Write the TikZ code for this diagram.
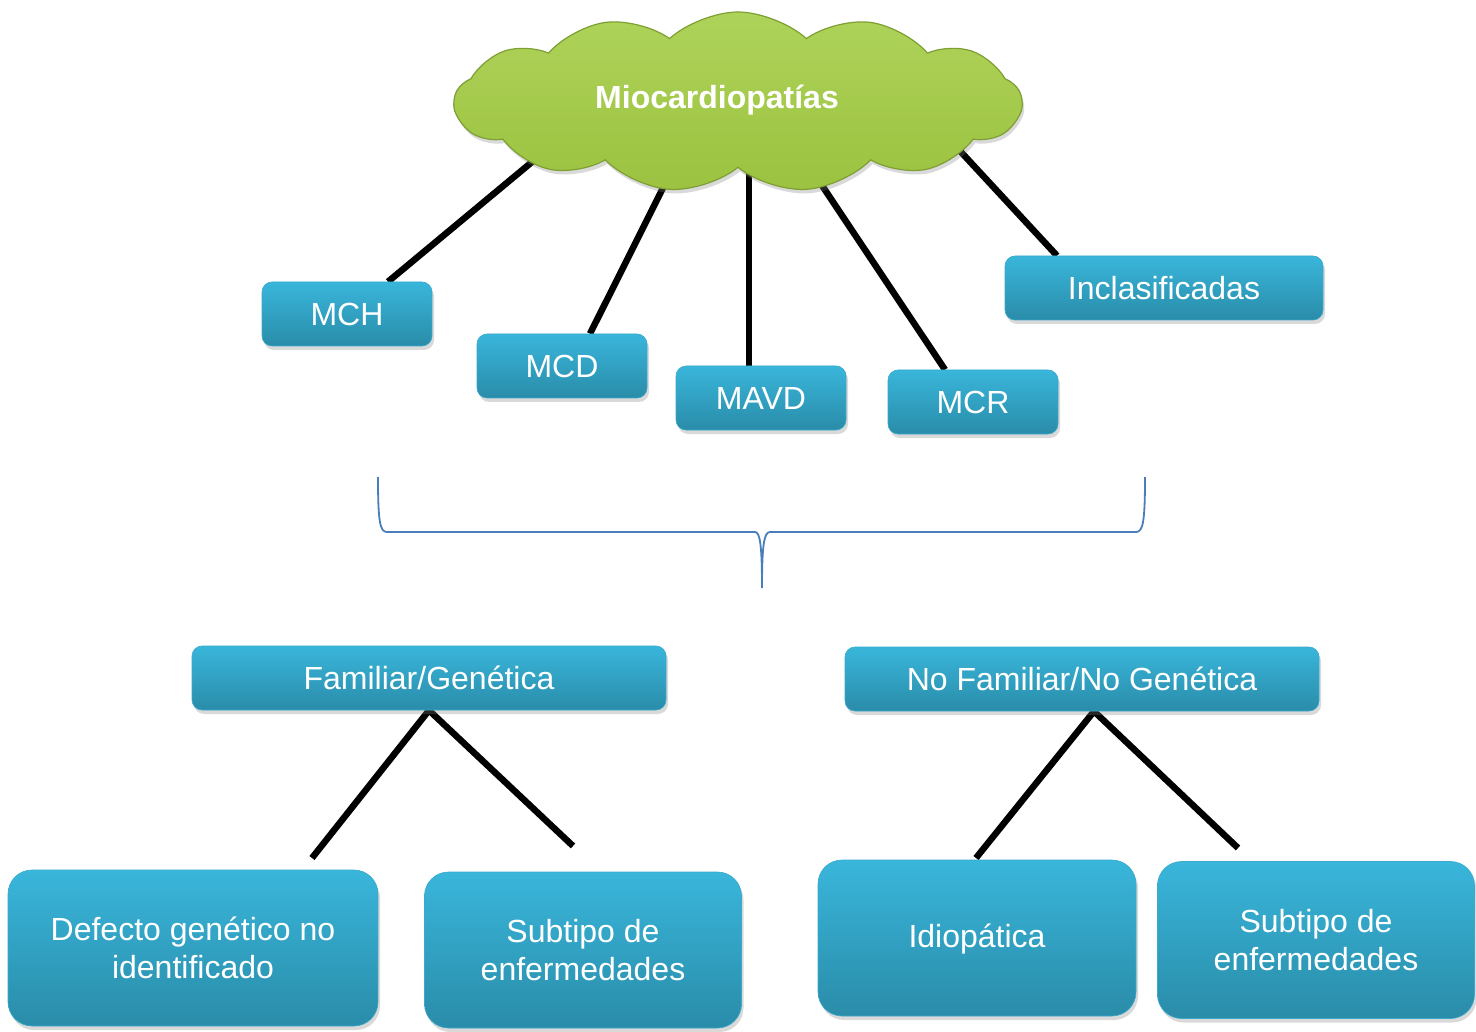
\documentclass[tikz,border=0pt]{standalone}
\usepackage{fontspec}
\setmainfont{Liberation Sans}
\usetikzlibrary{shapes.symbols,shadows,backgrounds,calc}
\definecolor{boxtop}{HTML}{39B6DB}
\definecolor{boxbot}{HTML}{2A8CA9}
\definecolor{boxedge}{HTML}{3AA9CB}
\definecolor{cloudtop}{HTML}{AED35A}
\definecolor{cloudbot}{HTML}{9CC240}
\definecolor{cloudedge}{HTML}{7E9F33}
\definecolor{bracecol}{HTML}{4A7EBB}
\begin{document}
\begin{tikzpicture}[x=1pt,y=-1pt,
  box/.style={rounded corners=10pt, top color=boxtop, bottom color=boxbot,
    draw=boxedge, line width=0.6pt, text=white,
    font=\fontsize{32}{38}\selectfont, inner sep=0pt, align=center,
    drop shadow={shadow xshift=2pt, shadow yshift=-4pt, opacity=0.3}},
  bigbox/.style={box, rounded corners=24pt},
  link/.style={line width=6.5pt, black, line cap=butt},
  bracket/.style={draw=bracecol, line width=1.8pt}]
\useasboundingbox (0,0) rectangle (1476,1032);

% cloud
\node[cloud, cloud puffs=13, cloud puff arc=85, aspect=3.1,
  minimum width=567pt, minimum height=180pt, inner sep=0pt,
  top color=cloudtop, bottom color=cloudbot, draw=cloudedge, line width=1.2pt,
  drop shadow={shadow xshift=2pt, shadow yshift=-4pt, opacity=0.3}]
  (cloud) at (738,102) {};
\node[text=white, font=\fontsize{32}{38}\selectfont\bfseries] (title) at (717,100) {Miocardiopat\'{\i}as};

% first-level boxes
\node[box, minimum width=170pt, minimum height=64pt] (mch) at (347,314) {MCH};
\node[box, minimum width=170pt, minimum height=64pt] (mcd) at (562,366) {MCD};
\node[box, minimum width=170pt, minimum height=64pt] (mavd) at (761,398) {MAVD};
\node[box, minimum width=170pt, minimum height=64pt] (mcr) at (973,402) {MCR};
\node[box, minimum width=318pt, minimum height=64pt] (incl) at (1164,288) {Inclasificadas};

% second level
\node[box, minimum width=474pt, minimum height=64pt] (fam) at (429,678) {Familiar/Gen\'etica};
\node[box, minimum width=474pt, minimum height=64pt] (nofam) at (1082,679) {No Familiar/No Gen\'etica};

% third level
\node[bigbox, minimum width=370pt, minimum height=156pt] (def) at (193,948) {Defecto gen\'etico no\\identificado};
\node[bigbox, minimum width=317pt, minimum height=156pt] (sub1) at (583,950) {Subtipo de\\enfermedades};
\node[bigbox, minimum width=318pt, minimum height=156pt, text depth=4pt] (idio) at (977,938) {Idiop\'atica};
\node[bigbox, minimum width=317pt, minimum height=157pt] (sub2) at (1316,940) {Subtipo de\\enfermedades};

\coordinate (e1) at (312,858);
\coordinate (e2) at (573,846);
\coordinate (e3) at (976,858);
\coordinate (e4) at (1238,848);

\begin{pgfonlayer}{background}
  \draw[link] ($(mch.north)+(41,0)$) -- ($(cloud.center)+(-188,45)$);
  \draw[link] ($(mcd.north)+(28,0)$) -- ($(cloud.center)+(-62,60)$);
  \draw[link] ($(mavd.north)+(-12,0)$) -- ($(cloud.center)+(11,68)$);
  \draw[link] ($(mcr.north)+(-28,0)$) -- ($(cloud.center)+(69,61)$);
  \draw[link] ($(incl.north)+(-107,0)$) -- ($(cloud.center)+(198,23)$);
  \draw[link] (fam.south) -- (e1);
  \draw[link] (fam.south) -- (e2);
  \draw[link] ($(nofam.south)+(12,0)$) -- (e3);
  \draw[link] ($(nofam.south)+(12,0)$) -- (e4);
\end{pgfonlayer}

% brace
\draw[bracket] (378,477) .. controls (378,522) and (380,532) .. (387,532)
  -- (755,532) .. controls (760,532) and (762,545) .. (762,588)
  .. controls (762,545) and (764,532) .. (770,532)
  -- (1136,532) .. controls (1143,532) and (1145,522) .. (1145,477);
\end{tikzpicture}
\end{document}
